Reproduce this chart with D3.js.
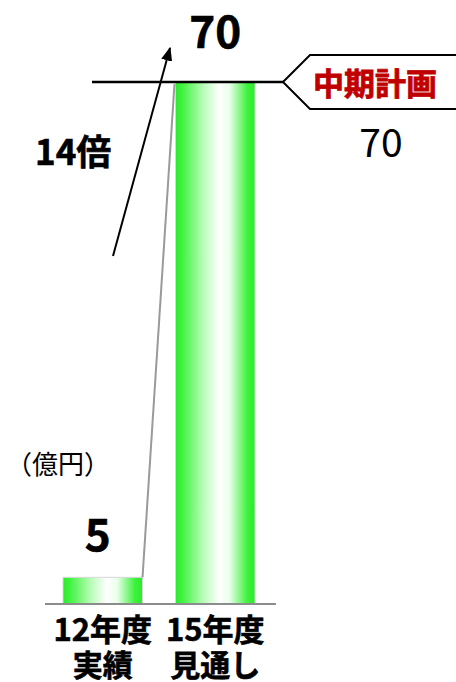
<!DOCTYPE html>
<html>
<head>
<meta charset="utf-8">
<script src="https://cdn.jsdelivr.net/npm/d3@7"></script>
<style>
  body { margin: 0; background: #fff; }
  svg { display: block; font-family: "Noto Sans CJK JP", "Noto Sans", sans-serif; }
</style>
</head>
<body>
<svg width="456" height="682"></svg>
<script>
// data
const categories = ["12年度", "15年度"]
const subLabels = ["実績", "見通し"]
const values = [5, 70]
const planLabel = "中期計画"
const planValue = 70
const growthLabel = "14倍"
const unitLabel = "（億円）"

const svg = d3.select("svg")

const x = d3.scaleBand()
  .domain(categories)
  .range([46, 272])
  .paddingInner(0.293)
  .paddingOuter(0.151)

// the picture's axis does not start at zero
const y = d3.scaleLinear()
  .domain([1.5, 70])
  .range([604, 82])

const defs = svg.append("defs")
const grad = defs.append("linearGradient")
  .attr("id", "barGrad")
  .attr("x1", "0%").attr("x2", "100%")
  .attr("y1", "0%").attr("y2", "0%")
grad.selectAll("stop")
  .data([[0, "#28ec28"], [0.08, "#3ff23f"], [0.35, "#b8fcb8"], [0.55, "#ffffff"], [0.68, "#eaffea"], [0.9, "#3ff23f"], [1, "#28ec28"]])
  .enter().append("stop")
  .attr("offset", d => d[0])
  .attr("stop-color", d => d[1])

defs.append("marker")
  .attr("id", "arrow")
  .attr("viewBox", "0 -5 10 10")
  .attr("refX", 9)
  .attr("refY", 0)
  .attr("markerWidth", 7)
  .attr("markerHeight", 7)
  .attr("markerUnits", "strokeWidth")
  .attr("orient", "auto")
  .append("path")
  .attr("d", "M0,-4L10,0L0,4Z")
  .attr("fill", "#000")

// bars
svg.append("g").selectAll("rect")
  .data(values)
  .enter().append("rect")
  .attr("x", (d, i) => x(categories[i]))
  .attr("y", d => y(d))
  .attr("width", x.bandwidth())
  .attr("height", d => y(y.domain()[0]) - y(d))
  .attr("fill", "url(#barGrad)")
  .attr("stroke", "#d8d8d8")
  .attr("stroke-width", 1)

// connector from bar 1 top-right to bar 2 top-left
svg.append("line")
  .attr("x1", x(categories[0]) + x.bandwidth())
  .attr("y1", y(values[0]))
  .attr("x2", x(categories[1]) - 1)
  .attr("y2", y(values[1]) + 2)
  .attr("stroke", "#9a9a9a")
  .attr("stroke-width", 2)

// baseline
svg.append("line")
  .attr("x1", 45).attr("x2", 276)
  .attr("y1", y(y.domain()[0])).attr("y2", y(y.domain()[0]))
  .attr("stroke", "#8c8c8c")
  .attr("stroke-width", 2)

// plan line + callout
const py = y(planValue)
svg.append("line")
  .attr("x1", 92).attr("x2", 284)
  .attr("y1", py).attr("y2", py)
  .attr("stroke", "#000")
  .attr("stroke-width", 2.5)

svg.append("path")
  .attr("d", `M283,${py} L310,${py - 27} L470,${py - 27} L470,${py + 27} L310,${py + 27} Z`)
  .attr("fill", "#fff")
  .attr("stroke", "#000")
  .attr("stroke-width", 2)

svg.append("text")
  .attr("x", 375).attr("y", py + 5)
  .attr("text-anchor", "middle")
  .attr("dominant-baseline", "middle")
  .attr("font-size", 31)
  .attr("font-weight", "bold")
  .attr("fill", "#c00000")
  .attr("stroke", "#c00000")
  .attr("stroke-width", 0.8)
  .text(planLabel)

svg.append("text")
  .attr("x", 381).attr("y", py + 75)
  .attr("text-anchor", "middle")
  .attr("font-size", 39)
  .attr("fill", "#000")
  .text(planValue)

// value labels
svg.append("g").selectAll("text")
  .data(values)
  .enter().append("text")
  .attr("x", (d, i) => x(categories[i]) + x.bandwidth() / 2 + (i === 0 ? -5 : 0))
  .attr("y", d => y(d) - (d > 10 ? 34 : 26))
  .attr("text-anchor", "middle")
  .attr("font-size", 44)
  .attr("font-weight", "bold")
  .attr("stroke", "#000")
  .attr("stroke-width", 0.6)
  .text(d => d)

// growth arrow
svg.append("line")
  .attr("x1", 113).attr("y1", 256)
  .attr("x2", 170).attr("y2", 48)
  .attr("stroke", "#000")
  .attr("stroke-width", 2)
  .attr("marker-end", "url(#arrow)")

svg.append("text")
  .attr("x", 35).attr("y", 165)
  .attr("font-size", 35)
  .attr("font-weight", "bold")
  .attr("stroke", "#000")
  .attr("stroke-width", 0.6)
  .text(growthLabel)

svg.append("text")
  .attr("x", 6).attr("y", 474)
  .attr("font-size", 26)
  .text(unitLabel)

// category labels
const cat = svg.append("g").selectAll("g")
  .data(categories)
  .enter().append("g")
  .attr("transform", d => `translate(${x(d) + x.bandwidth() / 2},0)`)

cat.append("text")
  .attr("y", 641)
  .attr("text-anchor", "middle")
  .attr("font-size", 31)
  .attr("font-weight", "bold")
  .attr("stroke", "#000")
  .attr("stroke-width", 0.6)
  .text(d => d)

cat.append("text")
  .attr("y", 676)
  .attr("text-anchor", "middle")
  .attr("font-size", 30)
  .attr("font-weight", "bold")
  .attr("stroke", "#000")
  .attr("stroke-width", 0.6)
  .text((d, i) => subLabels[i])
</script>
</body>
</html>
